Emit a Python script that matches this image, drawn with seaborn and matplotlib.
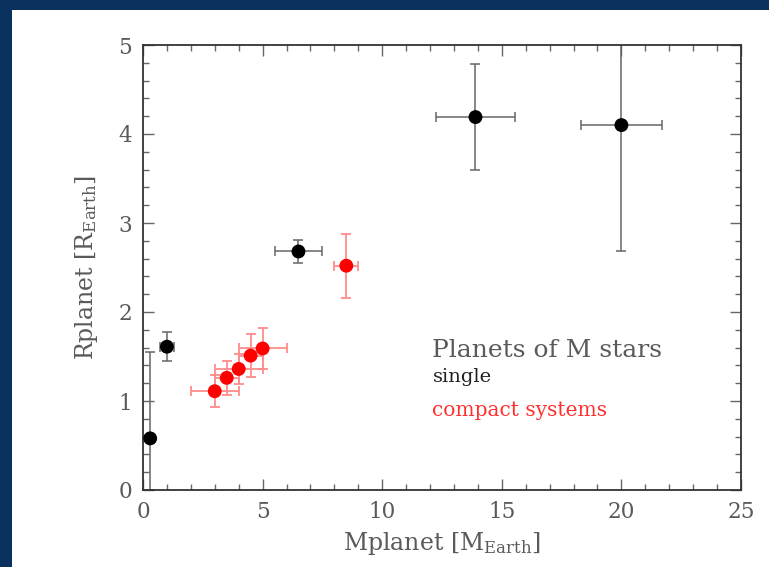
import matplotlib
matplotlib.use("Agg")
import matplotlib.pyplot as plt
from matplotlib.patches import Rectangle
from matplotlib.ticker import MultipleLocator
import seaborn as sns
import pandas as pd

# Planets orbiting single M stars
single_mass = [0.3, 1.0, 6.5, 13.9, 20.0]
single_radius = [0.58, 1.61, 2.68, 4.19, 4.10]
single_mass_err = [0.0, 0.3, 1.0, 1.64, 1.7]
single_radius_err_lo = [0.58, 0.16, 0.13, 0.59, 1.42]
single_radius_err_hi = [0.97, 0.16, 0.13, 0.60, 1.42]

# Planets in compact multi-planet systems
compact_mass = [3.0, 3.5, 4.0, 4.5, 5.0, 8.5]
compact_radius = [1.11, 1.26, 1.36, 1.51, 1.59, 2.52]
compact_mass_err = [1.0, 0.5, 1.0, 0.5, 1.0, 0.5]
compact_radius_err = [0.18, 0.19, 0.17, 0.24, 0.23, 0.36]

x_ticks = [0, 5, 10, 15, 20, 25]
y_ticks = [0, 1, 2, 3, 4, 5]

sns.set_style("ticks")
plt.rcParams["font.family"] = ["DejaVu Serif"]
plt.rcParams["mathtext.fontset"] = "dejavuserif"

text_grey = "#5a5a5a"
navy = "#0a305e"

fig = plt.figure(figsize=(7.69, 5.67), dpi=100)
fig.patch.set_facecolor(navy)
panel = Rectangle((12 / 769, 0), 1, 557 / 567, transform=fig.transFigure,
                  facecolor="white", edgecolor="none", zorder=-10)
fig.add_artist(panel)

ax = fig.add_axes([143 / 769, 77 / 567, 598 / 769, 445 / 567])
ax.set_zorder(1)
ax.set_facecolor("white")

df_single = pd.DataFrame({"mass": single_mass, "radius": single_radius})
df_compact = pd.DataFrame({"mass": compact_mass, "radius": compact_radius})

ax.errorbar(single_mass, single_radius, xerr=single_mass_err,
            yerr=[single_radius_err_lo, single_radius_err_hi],
            fmt="none", ecolor="#666666", elinewidth=1.1, capsize=3.5, capthick=1.1, zorder=2)
ax.errorbar(compact_mass, compact_radius, xerr=compact_mass_err, yerr=compact_radius_err,
            fmt="none", ecolor="#ff8c8c", elinewidth=1.3, capsize=3.5, capthick=1.3, zorder=2)

sns.scatterplot(data=df_single, x="mass", y="radius", ax=ax, color="black",
                s=100, edgecolor="none", zorder=3)
sns.scatterplot(data=df_compact, x="mass", y="radius", ax=ax, color="#ff0000",
                s=100, edgecolor="none", zorder=3)

ax.set_xlim(0, 25)
ax.set_ylim(0, 5)
ax.set_xticks(x_ticks)
ax.set_yticks(y_ticks)
ax.set_xticklabels([str(v) for v in x_ticks])
ax.set_yticklabels([str(v) for v in y_ticks])
ax.xaxis.set_minor_locator(MultipleLocator(1))
ax.yaxis.set_minor_locator(MultipleLocator(0.2))

for side in ["top", "right", "bottom", "left"]:
    ax.spines[side].set_visible(True)
    ax.spines[side].set_color("#333333")
    ax.spines[side].set_linewidth(1.3)

ax.tick_params(which="both", direction="in", top=True, right=True,
               color="#666666", width=1.0, labelcolor=text_grey, labelsize=15.5, pad=8)
ax.tick_params(which="major", length=8)
ax.tick_params(which="minor", length=4)

ax.set_xlabel(r"Mplanet [M$_{\rm Earth}$]", fontsize=17, color=text_grey, labelpad=5)
ax.set_ylabel(r"Rplanet [R$_{\rm Earth}$]", fontsize=17, color=text_grey, labelpad=13)

ax.text(12.1, 1.57, "Planets of M stars", fontsize=18, color=text_grey, va="center")
ax.text(12.1, 1.27, "single", fontsize=14, color="#222222", va="center")
ax.text(12.1, 0.89, "compact systems", fontsize=14.5, color="#ff3030", va="center")

fig.savefig("out.png", dpi=100, facecolor=fig.get_facecolor())
